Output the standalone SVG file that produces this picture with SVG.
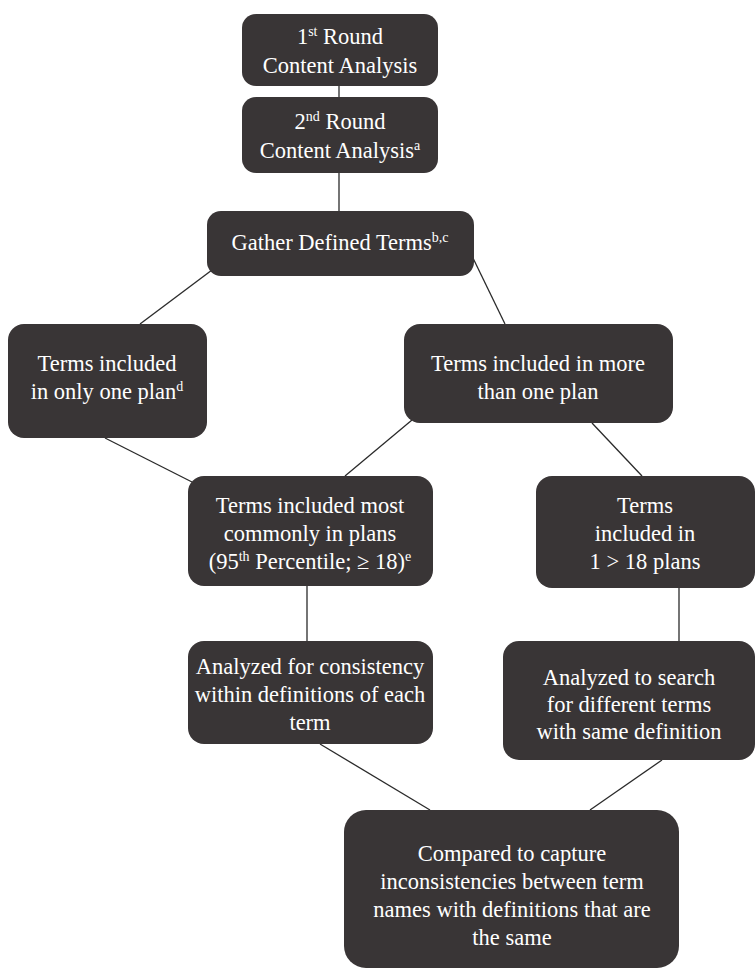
<svg xmlns="http://www.w3.org/2000/svg" width="755" height="971" viewBox="0 0 755 971">
<style>
.box{fill:#393536;}
.t{font-family:"Liberation Serif","Times New Roman",serif;font-size:22.5px;fill:#ffffff;text-anchor:middle;}
.sup{font-size:14px;}
.c{stroke:#2a2a2a;stroke-width:1.3;fill:none;}
</style>
<rect width="755" height="971" fill="#ffffff"/>
<g id="connectors">
<line class="c" x1="339" y1="86" x2="339" y2="97"/>
<line class="c" x1="339" y1="173" x2="339" y2="211"/>
<line class="c" x1="212" y1="270" x2="140" y2="324"/>
<line class="c" x1="472" y1="256" x2="505" y2="324"/>
<line class="c" x1="105" y1="438" x2="192" y2="482"/>
<line class="c" x1="412" y1="420" x2="345" y2="476"/>
<line class="c" x1="592" y1="423" x2="642" y2="476"/>
<line class="c" x1="307" y1="586" x2="307" y2="641"/>
<line class="c" x1="679" y1="588" x2="679" y2="641"/>
<line class="c" x1="320" y1="744" x2="430" y2="810"/>
<line class="c" x1="662" y1="760" x2="590" y2="810"/>
</g>
<g id="n1">
<rect class="box" x="242" y="14" width="196" height="72" rx="14"/>
<text class="t" x="340" y="44">1<tspan class="sup" dy="-8">st</tspan><tspan dy="8"> Round</tspan></text>
<text class="t" x="340" y="73">Content Analysis</text>
</g>
<g id="n2">
<rect class="box" x="242" y="97" width="196" height="76" rx="14"/>
<text class="t" x="340" y="129">2<tspan class="sup" dy="-8">nd</tspan><tspan dy="8"> Round</tspan></text>
<text class="t" x="340" y="158">Content Analysis<tspan class="sup" dy="-8">a</tspan></text>
</g>
<g id="n3">
<rect class="box" x="207" y="211" width="267" height="65" rx="14"/>
<text class="t" x="340" y="250">Gather Defined Terms<tspan class="sup" dy="-8">b,c</tspan></text>
</g>
<g id="n4">
<rect class="box" x="8" y="324" width="199" height="114" rx="16"/>
<text class="t" x="107" y="371">Terms included</text>
<text class="t" x="107" y="399">in only one plan<tspan class="sup" dy="-8">d</tspan></text>
</g>
<g id="n5">
<rect class="box" x="404" y="324" width="269" height="99" rx="16"/>
<text class="t" x="538" y="371">Terms included in more</text>
<text class="t" x="538" y="399">than one plan</text>
</g>
<g id="n6">
<rect class="box" x="188" y="476" width="245" height="110" rx="16"/>
<text class="t" x="310" y="513">Terms included most</text>
<text class="t" x="310" y="541">commonly in plans</text>
<text class="t" x="310" y="569">(95<tspan class="sup" dy="-8">th</tspan><tspan dy="8"> Percentile; ≥ 18)</tspan><tspan class="sup" dy="-8">e</tspan></text>
</g>
<g id="n7">
<rect class="box" x="536" y="476" width="219" height="112" rx="16"/>
<text class="t" x="645" y="513">Terms</text>
<text class="t" x="645" y="541">included in</text>
<text class="t" x="645" y="569">1 &gt; 18 plans</text>
</g>
<g id="n8">
<rect class="box" x="188" y="641" width="245" height="103" rx="16"/>
<text class="t" x="310" y="674">Analyzed for consistency</text>
<text class="t" x="310" y="702">within definitions of each</text>
<text class="t" x="310" y="730">term</text>
</g>
<g id="n9">
<rect class="box" x="503" y="641" width="252" height="119" rx="16"/>
<text class="t" x="629" y="685">Analyzed to search</text>
<text class="t" x="629" y="712">for different terms</text>
<text class="t" x="629" y="739">with same definition</text>
</g>
<g id="n10">
<rect class="box" x="344" y="810" width="335" height="158" rx="22"/>
<text class="t" x="512" y="861">Compared to capture</text>
<text class="t" x="512" y="889">inconsistencies between term</text>
<text class="t" x="512" y="917">names with definitions that are</text>
<text class="t" x="512" y="945">the same</text>
</g>
</svg>
